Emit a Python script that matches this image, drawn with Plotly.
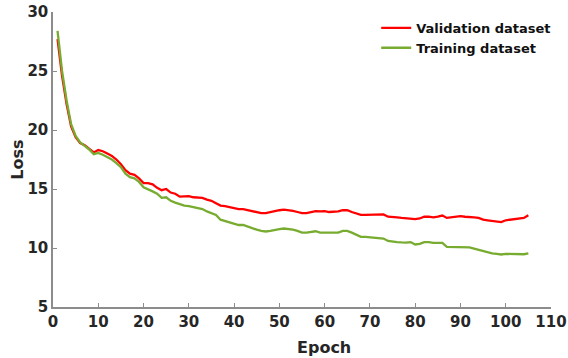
import plotly.graph_objects as go

epochs = list(range(1, 106))

validation_loss = [
    27.7, 24.6, 22.2, 20.3, 19.4, 18.9, 18.7, 18.4, 18.1, 18.3,
    18.2, 18.0, 17.8, 17.5, 17.1, 16.6, 16.3, 16.2, 15.9, 15.5,
    15.5, 15.4, 15.1, 14.9, 15.0, 14.7, 14.6, 14.35, 14.4, 14.4,
    14.3, 14.3, 14.25, 14.1, 14.0, 13.8, 13.6, 13.55, 13.45, 13.4,
    13.3, 13.3, 13.2, 13.15, 13.05, 12.95, 12.95, 13.05, 13.15, 13.2,
    13.25, 13.22, 13.15, 13.05, 12.95, 12.95, 13.05, 13.12, 13.1, 13.12,
    13.05, 13.05, 13.1, 13.2, 13.2, 13.05, 12.9, 12.8, 12.8, 12.8,
    12.85, 12.85, 12.85, 12.65, 12.65, 12.6, 12.55, 12.5, 12.5, 12.45,
    12.5, 12.65, 12.65, 12.6, 12.65, 12.75, 12.55, 12.6, 12.65, 12.7,
    12.65, 12.65, 12.6, 12.55, 12.4, 12.35, 12.3, 12.25, 12.2, 12.35,
    12.4, 12.45, 12.5, 12.55, 12.78,
]

training_loss = [
    28.4, 25.0, 22.5, 20.5, 19.5, 18.95, 18.65, 18.35, 17.95, 18.05,
    17.9, 17.7, 17.5, 17.2, 16.85, 16.3, 16.0, 15.9, 15.6, 15.15,
    15.0, 14.8, 14.6, 14.25, 14.3, 14.0, 13.85, 13.7, 13.6, 13.55,
    13.45, 13.35, 13.3, 13.1, 12.95, 12.8, 12.4, 12.3, 12.2, 12.05,
    11.95, 11.95, 11.8, 11.7, 11.55, 11.45, 11.4, 11.45, 11.55, 11.6,
    11.65, 11.62, 11.55, 11.45, 11.3, 11.3, 11.38, 11.42, 11.3, 11.3,
    11.28, 11.28, 11.3, 11.45, 11.45, 11.3, 11.1, 10.95, 10.95, 10.9,
    10.9, 10.85, 10.8, 10.6, 10.58, 10.5, 10.47, 10.45, 10.5, 10.3,
    10.35, 10.5, 10.5, 10.43, 10.43, 10.43, 10.1, 10.1, 10.1, 10.1,
    10.1, 10.05, 9.95, 9.85, 9.7, 9.6, 9.55, 9.5, 9.45, 9.5,
    9.5, 9.45, 9.47, 9.47, 9.55,
]

x_ticks = [0, 10, 20, 30, 40, 50, 60, 70, 80, 90, 100, 110]
y_ticks = [5, 10, 15, 20, 25, 30]

FONT = "DejaVu Sans, sans-serif"
TXT = "#262626"

fig = go.Figure()
fig.add_trace(go.Scatter(x=epochs, y=validation_loss, mode="lines",
                         name="<b>Validation dataset</b>",
                         line=dict(color="#ff0000", width=2.3)))
fig.add_trace(go.Scatter(x=epochs, y=training_loss, mode="lines",
                         name="<b>Training dataset</b>",
                         line=dict(color="#77ac30", width=2.3)))

axis_common = dict(
    showgrid=False, zeroline=False, showline=True, linecolor="#8c8c8c",
    linewidth=1.5, ticks="inside", ticklen=4, tickwidth=1, tickcolor="#8c8c8c",
    tickfont=dict(family=FONT, size=15, color=TXT), mirror=False,
    automargin=False, ticklabeloverflow="allow",
)

fig.update_layout(
    width=568, height=358,
    margin=dict(l=53, r=14, t=12, b=51),
    paper_bgcolor="white", plot_bgcolor="white",
    showlegend=True,
    legend=dict(x=0.649, y=0.997, xanchor="left", yanchor="top",
                bgcolor="rgba(0,0,0,0)", font=dict(family=FONT, size=13, color="#111111"),
                tracegroupgap=0, itemwidth=30),
    xaxis=dict(range=[0, 110], tickvals=x_ticks,
               ticktext=[f"<b>{v}</b>" for v in x_ticks], **axis_common),
    yaxis=dict(range=[5, 30], tickvals=y_ticks,
               ticktext=[f"<b>{v}</b>" for v in y_ticks], **axis_common),
    annotations=[
        dict(text="<b>Epoch</b>", xref="paper", yref="paper", x=0.545, y=-0.136,
             xanchor="center", yanchor="middle", showarrow=False,
             font=dict(family=FONT, size=16, color=TXT)),
        dict(text="<b>Loss</b>", xref="paper", yref="paper", x=-0.072, y=0.5,
             xanchor="center", yanchor="middle", showarrow=False, textangle=-90,
             font=dict(family=FONT, size=16, color=TXT)),
    ],
)

fig.write_html("out.html", config={"displayModeBar": False},
               post_script="document.body.style.margin='0';")
